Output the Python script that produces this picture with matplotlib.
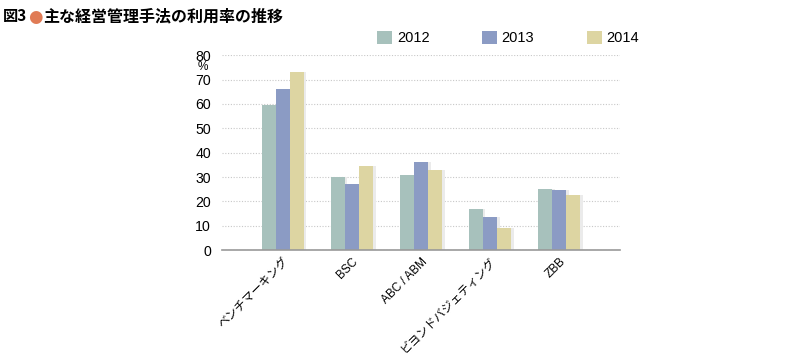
import numpy as np
import matplotlib.pyplot as plt
from matplotlib.patches import Patch

plt.rcParams['font.family'] = ['Liberation Sans', 'Noto Sans CJK JP', 'DejaVu Sans']

categories = ["ベンチマーキング", "BSC", "ABC / ABM", "ビヨンドバジェティング", "ZBB"]
years = ["2012", "2013", "2014"]
v2012 = [59.5, 30, 31, 17, 25]
v2013 = [66, 27, 36, 13.5, 24.7]
v2014 = [73, 34.5, 33, 9, 22.6]
colors = ["#a7c1bc", "#8b9bc4", "#ddd5a2"]

fig = plt.figure(figsize=(8, 3.63), dpi=100)
ax = fig.add_axes([0.2775, 0.311, 0.4975, 0.537])

x = np.arange(len(categories))
w = 0.205
for i, vals in enumerate([v2012, v2013, v2014]):
    pos = x + (i - 1) * w
    # soft shadow to the right
    ax.bar(pos + 0.035, vals, w, color="#ebebeb", zorder=1, linewidth=0)
    ax.bar(pos, vals, w, color=colors[i], zorder=2, linewidth=0)

ax.set_xlim(-0.88, 4.88)
ax.set_ylim(0, 80)
ax.set_yticks(range(0, 81, 10))
ax.yaxis.grid(True, linestyle=(0, (1, 1.5)), color="#c8c8c8", linewidth=0.8, zorder=0)
ax.set_axisbelow(True)
for s in ["top", "right", "left"]:
    ax.spines[s].set_visible(False)
ax.spines["bottom"].set_color("#999999")
ax.spines["bottom"].set_linewidth(1.2)
ax.tick_params(axis="y", length=0, labelsize=10.2, pad=8)
ax.tick_params(axis="x", length=0, pad=4)
ax.set_xticks(x)
ax.set_xticklabels(categories, rotation=45, ha="right", rotation_mode="anchor", fontsize=8.5)
ax.text(-0.035, 0.937, "%", transform=ax.transAxes, ha="right", va="center", fontsize=8.5)

handles = [Patch(facecolor=c, edgecolor="none") for c in colors]
fig.legend(handles, years, loc="center left", bbox_to_anchor=(0.455, 0.895), ncol=3,
           frameon=False, fontsize=10.5, handlelength=1.05, handleheight=1.05,
           columnspacing=3.6, handletextpad=0.3)

title_font = ['Noto Sans CJK JP', 'DejaVu Sans']
fig.text(0.004, 0.978, "図3", fontsize=11, fontweight="bold", va="top", ha="left", family=title_font)
fig.text(0.0345, 0.978, "●", fontsize=12, color="#e07b55", va="top", ha="left", family="DejaVu Sans")
fig.text(0.054, 0.978, "主な経営管理手法の利用率の推移", fontsize=11.5, fontweight="bold",
         va="top", ha="left", family=title_font)

fig.savefig("out.png", dpi=100)
